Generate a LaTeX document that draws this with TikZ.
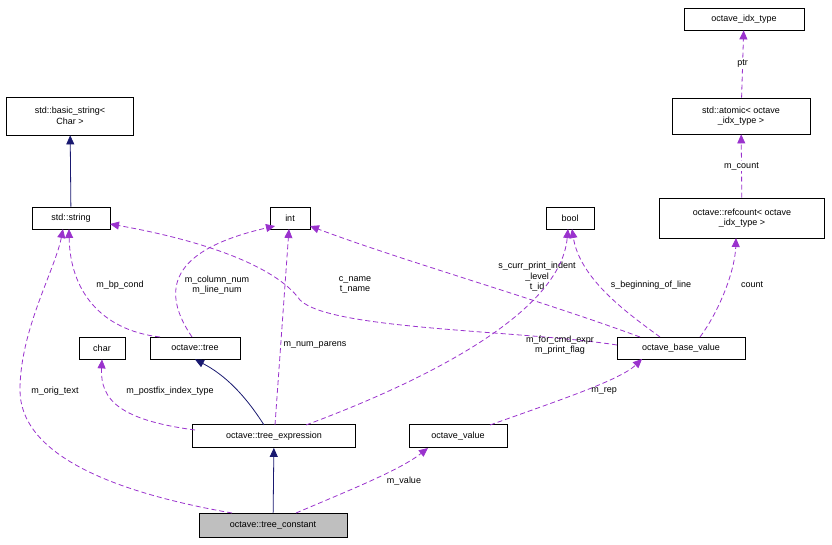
\documentclass[tikz,border=0pt]{standalone}
\usepackage{fontspec}
\setmainfont{Liberation Sans}
\usetikzlibrary{arrows.meta}
\definecolor{mp}{HTML}{9A32CD}
\definecolor{nv}{HTML}{191970}
\begin{document}
\begin{tikzpicture}[x=1pt,y=-1pt,
  box/.style={draw,line width=0.8pt,fill=white,inner sep=0pt,align=center,font=\fontsize{9}{10.5}\selectfont},
  lbl/.style={font=\fontsize{9}{10.5}\selectfont,align=center,inner sep=1pt},
  use/.style={draw=mp,line width=0.8pt,dash pattern=on 5pt off 3pt,-{Triangle[length=9pt,width=8pt,fill=mp]}},
  inh/.style={draw=nv,line width=0.8pt,-{Triangle[length=9pt,width=8pt,fill=nv]}}]
\useasboundingbox (0,0) rectangle (832,545);
\node[box,minimum width=120,minimum height=22] (idx) at (744,19) {octave\_idx\_type};
\node[box,minimum width=138,minimum height=36] (atom) at (741,116) {std::atomic< octave\\\_idx\_type >};
\node[box,minimum width=165,minimum height=40] (ref) at (742,218) {octave::refcount< octave\\\_idx\_type >};
\node[box,minimum width=127,minimum height=38] (bs) at (70,116) {std::basic\_string<\\Char >};
\node[box,minimum width=78,minimum height=22] (str) at (71,218) {std::string};
\node[box,minimum width=40,minimum height=22] (int) at (290,218) {int};
\node[box,minimum width=48,minimum height=22] (bool) at (570,218) {bool};
\node[box,minimum width=46,minimum height=22] (char) at (102,348) {char};
\node[box,minimum width=90,minimum height=22] (tree) at (195,348) {octave::tree};
\node[box,minimum width=128,minimum height=22] (obv) at (681,348) {octave\_base\_value};
\node[box,minimum width=163,minimum height=23] (te) at (274,436) {octave::tree\_expression};
\node[box,minimum width=98,minimum height=23] (ov) at (458,436) {octave\_value};
\node[box,fill={rgb,255:red,191;green,191;blue,191},minimum width=148,minimum height=24] (tc) at (273,525) {octave::tree\_constant};

\draw[use] (atom) -- (idx) node[lbl,midway,fill=white]{ptr};
\draw[use] (ref) -- (atom) node[lbl,midway,fill=white]{m\_count};
\draw[inh] (str) -- (bs);
\draw[use] (700,337) .. controls (720,310) and (735,270) .. (736,238);
\node[lbl] at (752,285) {count};
\draw[use] (660,337) .. controls (630,315) and (580,280) .. (572,229);
\node[lbl] at (651,285) {s\_beginning\_of\_line};
\draw[use] (640,337) .. controls (540,300) and (400,260) .. (310,226);
\node[lbl] at (537,277) {s\_curr\_print\_indent\\\_level\\t\_id};
\draw[use] (617,345) .. controls (520,330) and (330,330) .. (300,300) .. controls (275,265) and (200,240) .. (110,224);
\node[lbl] at (355,285) {c\_name\\t\_name};
\draw[use] (306,425) .. controls (400,390) and (560,320) .. (568,229);
\node[lbl] at (560,345) {m\_for\_cmd\_expr\\m\_print\_flag};
\draw[use] (160,337) .. controls (100,330) and (70,290) .. (69,229);
\node[lbl] at (120,285) {m\_bp\_cond};
\draw[use] (192,337) .. controls (160,290) and (170,250) .. (275,226);
\node[lbl] at (217,285) {m\_column\_num\\m\_line\_num};
\draw[inh] (264,425) .. controls (245,395) and (225,375) .. (tree.south);
\draw[use] (275,425) -- (289,229);
\node[lbl] at (315,345) {m\_num\_parens};
\draw[use] (195,430) .. controls (120,420) and (100,400) .. (char.south);
\node[lbl] at (170,391) {m\_postfix\_index\_type};
\draw[inh] (tc) -- (te);
\draw[use] (232,513) .. controls (100,490) and (20,450) .. (20,390) .. controls (20,330) and (55,270) .. (63,229);
\node[lbl] at (55,391) {m\_orig\_text};
\draw[use] (296,513) .. controls (350,490) and (400,470) .. (428,448);
\node[lbl] at (404,481) {m\_value};
\draw[use] (490,425) .. controls (560,400) and (620,380) .. (642,359);
\node[lbl] at (604,391) {m\_rep};
\end{tikzpicture}
\end{document}
